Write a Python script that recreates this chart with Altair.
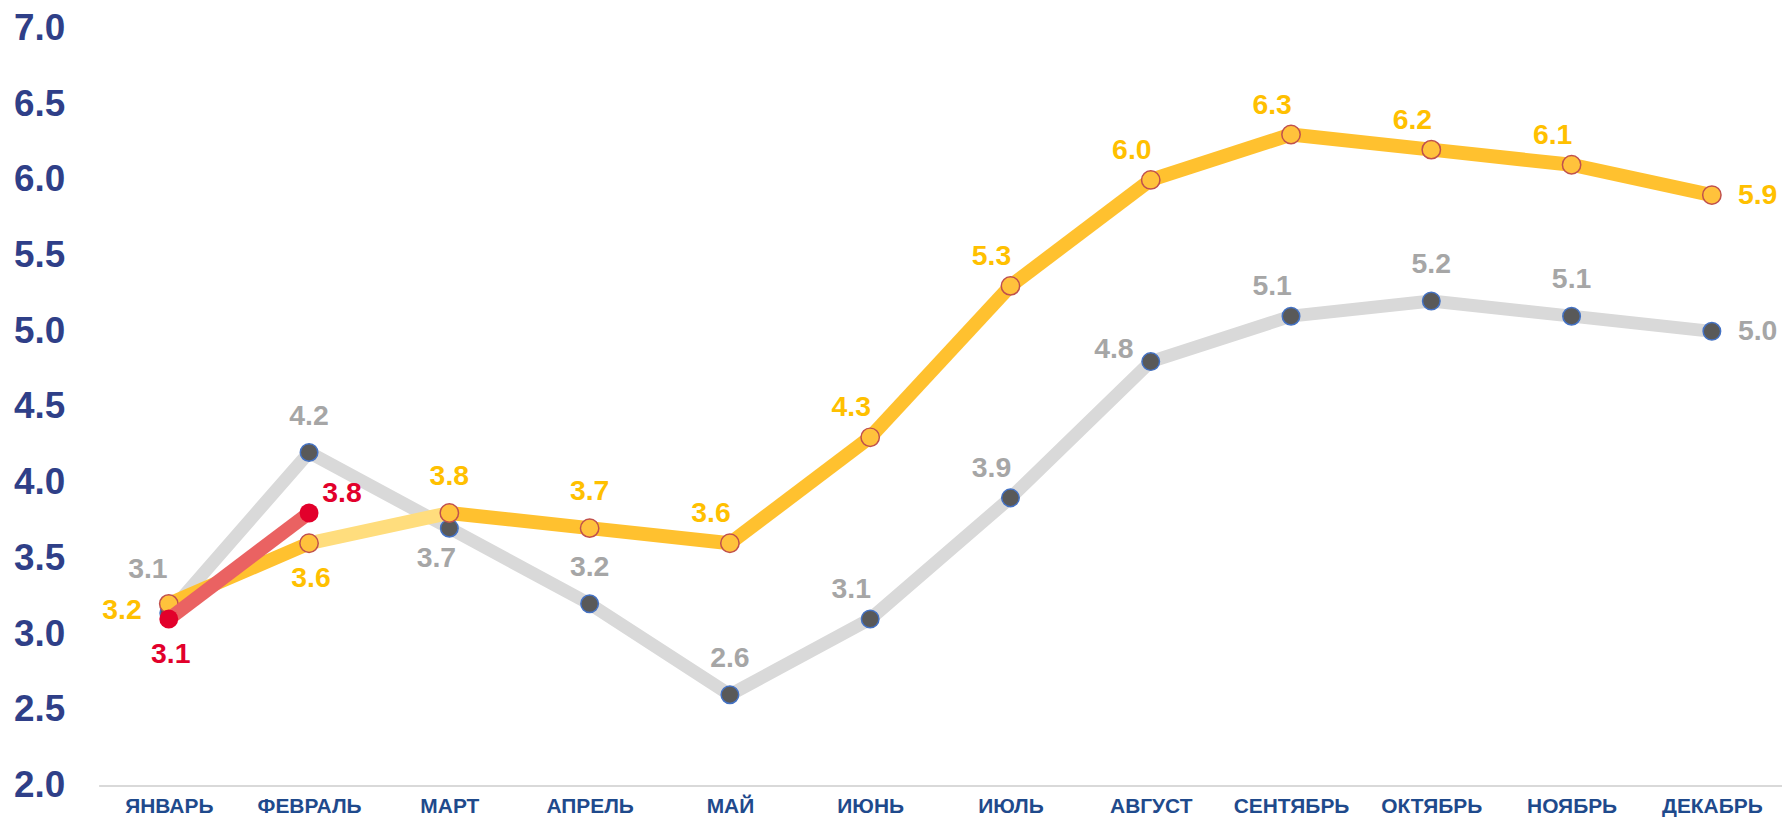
import altair as alt
import pandas as pd

months = ["ЯНВАРЬ", "ФЕВРАЛЬ", "МАРТ", "АПРЕЛЬ", "МАЙ", "ИЮНЬ",
          "ИЮЛЬ", "АВГУСТ", "СЕНТЯБРЬ", "ОКТЯБРЬ", "НОЯБРЬ", "ДЕКАБРЬ"]
gray_values = [3.14, 4.2, 3.7, 3.2, 2.6, 3.1, 3.9, 4.8, 5.1, 5.2, 5.1, 5.0]
yellow_values = [3.2, 3.6, 3.8, 3.7, 3.6, 4.3, 5.3, 6.0, 6.3, 6.2, 6.1, 5.9]
red_values = [3.1, 3.8]
y_ticks = [2.0, 2.5, 3.0, 3.5, 4.0, 4.5, 5.0, 5.5, 6.0, 6.5, 7.0]

# label placement categories (like Excel label positions)
gray_label_pos = ["far-above-left", "above", "below-left", "above", "above", "above-left",
                  "above-left", "upper-left", "above-left", "above", "above", "right"]
yellow_label_pos = ["left", "below", "above", "above", "above-left", "above-left",
                    "above-left", "above-left", "above-left", "above-left", "above-left", "right"]
red_label_pos = ["below", "above-right"]
yellow_light_segments = ["ФЕВРАЛЬ"]  # segment starting at this month is drawn lighter

OFFSETS = {
    "above": (0, -37), "above-left": (-19, -30), "far-above-left": (-21, -44),
    "upper-left": (-37, -13), "left": (-47, 6), "below": (2, 35),
    "below-left": (-13, 30), "right": (46, 0), "above-right": (33, -20),
}

GRAY_LINE = "#D9D9D9"
GRAY_TEXT = "#A6A6A6"
YELLOW = "#FFC12F"
YELLOW_LIGHT = "#FFDD7D"
YELLOW_TEXT = "#FFC000"
RED_LINE = "#EA6262"
RED = "#E2002B"
FONT = "Liberation Sans"

def series_df(vals, pos):
    return pd.DataFrame({"month": months[:len(vals)], "v": vals, "pos": pos})

gray_df = series_df(gray_values, gray_label_pos)
yellow_df = series_df(yellow_values, yellow_label_pos)
red_df = series_df(red_values, red_label_pos)

seg_rows = []
for i in range(len(yellow_values) - 1):
    col = YELLOW_LIGHT if months[i] in yellow_light_segments else YELLOW
    for j in (i, i + 1):
        seg_rows.append({"seg": i, "month": months[j], "v": yellow_values[j], "col": col, "order": j})
yellow_seg_df = pd.DataFrame(seg_rows)

x_enc = alt.X("month:N", sort=months,
              scale=alt.Scale(type="point", padding=0.5),
              axis=alt.Axis(title=None, labelAngle=0, ticks=False, domain=True,
                            domainColor=GRAY_LINE, domainWidth=2,
                            labelFont=FONT, labelFontSize=21, labelFontWeight="bold",
                            labelColor="#1F4A8C", labelPadding=10))
y_enc = alt.Y("v:Q", scale=alt.Scale(domain=[2, 7], nice=False, zero=False),
              axis=alt.Axis(title=None, values=y_ticks, format=".1f", grid=False,
                            ticks=False, domain=False, labelFont=FONT, labelFontSize=37,
                            labelFontWeight="bold", labelColor="#2F3F88", labelPadding=34))

def labels(df, color):
    layers = []
    for code, (dx, dy) in OFFSETS.items():
        sub = df[df["pos"] == code]
        if len(sub) == 0:
            continue
        layers.append(
            alt.Chart(sub).mark_text(font=FONT, fontSize=28.5, fontWeight="bold", color=color,
                                     dx=dx, dy=dy, align="center", baseline="middle")
            .encode(x=alt.X("month:N", sort=months), y="v:Q",
                    text=alt.Text("v:Q", format=".1f"))
        )
    return layers

gray_line = alt.Chart(gray_df).mark_line(color=GRAY_LINE, strokeWidth=13, strokeJoin="round").encode(x=x_enc, y=y_enc)
gray_pts = alt.Chart(gray_df).mark_point(shape="circle", filled=True, fill="#595959", stroke="#4472C4",
                                         strokeWidth=1.5, size=310, opacity=1).encode(x=alt.X("month:N", sort=months), y="v:Q")
yellow_line = alt.Chart(yellow_seg_df).mark_line(strokeWidth=14, strokeJoin="round").encode(
    x=alt.X("month:N", sort=months), y="v:Q", detail="seg:N",
    color=alt.Color("col:N", scale=None), order="order:Q")
yellow_pts = alt.Chart(yellow_df).mark_point(shape="circle", filled=True, fill="#FFC23C", stroke="#C0504D",
                                             strokeWidth=1.5, size=340, opacity=1).encode(x=alt.X("month:N", sort=months), y="v:Q")
red_line = alt.Chart(red_df).mark_line(color=RED_LINE, strokeWidth=14).encode(x=alt.X("month:N", sort=months), y="v:Q")
red_pts = alt.Chart(red_df).mark_point(shape="circle", filled=True, fill=RED, strokeWidth=0,
                                       size=360, opacity=1).encode(x=alt.X("month:N", sort=months), y="v:Q")

layers = [gray_line, gray_pts, yellow_line, yellow_pts, red_line, red_pts]
layers += labels(gray_df, GRAY_TEXT) + labels(yellow_df, YELLOW_TEXT) + labels(red_df, RED)

chart = alt.layer(*layers).properties(
    width=1690, height=760,
    autosize=alt.AutoSizeParams(type="none"),
    padding={"left": 91, "top": 19, "right": 0, "bottom": 33},
    background="white",
).configure_view(stroke=None)

chart.save("out.html", embed_options={"renderer": "svg", "actions": False})
